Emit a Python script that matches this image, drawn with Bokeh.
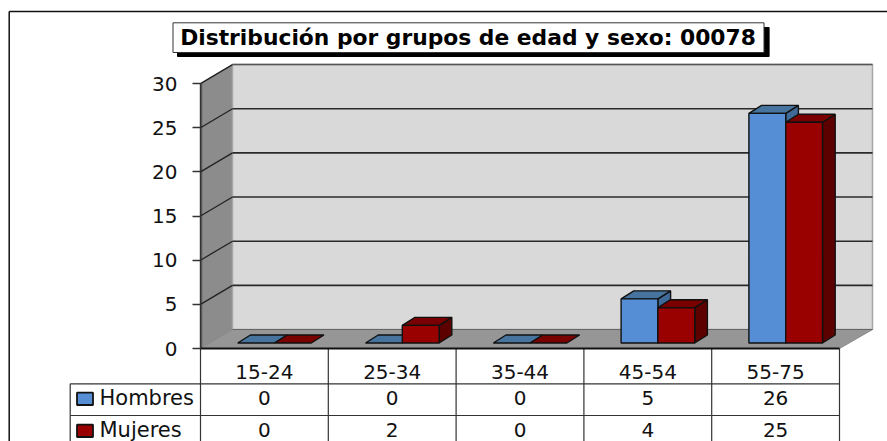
from bokeh.plotting import figure
from bokeh.models import LinearAxis, FixedTicker, Range1d
from bokeh.core.properties import value
from bokeh.embed import file_html
from bokeh.resources import INLINE

categories = ["15-24", "25-34", "35-44", "45-54", "55-75"]
hombres = [0, 0, 0, 5, 26]
mujeres = [0, 2, 0, 4, 25]
y_ticks = [0, 5, 10, 15, 20, 25, 30]
series_names = ["Hombres", "Mujeres"]
title_text = "Distribución por grupos de edad y sexo: 00078"

W, H = 887, 441
FONT = value("DejaVu Sans")
# canvas pixel -> data helpers (decoration only)
CW = 127.8          # px per category
UY = 8.83           # px per value unit
X0, Y0 = 200.0, 348.0
def X(px): return (px - X0) / CW
def Y(px): return (Y0 - px) / UY

p = figure(width=W, height=H, output_backend="svg", toolbar_location=None,
           x_range=Range1d(X(0), X(W)), y_range=Range1d(Y(H), Y(0)),
           min_border=0, min_border_left=0, min_border_right=0,
           min_border_top=0, min_border_bottom=0,
           x_axis_type=None, y_axis_type=None, outline_line_color=None,
           background_fill_color="white", border_fill_color="white")
p.xgrid.visible = False
p.ygrid.visible = False

def poly(pts, fill, line=None, lw=1.0):
    p.patch([X(a) for a, b in pts], [Y(b) for a, b in pts], fill_color=fill,
            line_color=line if line else fill, line_width=lw)

def seg(x0, y0, x1, y1, color="#222222", lw=1.5):
    p.line([X(x0), X(x1)], [Y(y0), Y(y1)], line_color=color, line_width=lw)

# outer border
seg(8.7, 11, 887, 11, "#111111", 1.5)
seg(8.7, 11, 8.7, 441, "#111111", 1.5)

# 3D walls
DX, DY = 32.0, 19.0
top = Y0 - 30 * UY
poly([(X0, top), (X0 + DX, top - DY), (X0 + DX, Y0 - DY), (X0, Y0)], "#8c8c8c", "#8c8c8c")
poly([(X0 + DX, top - DY), (X0 + DX + 640, top - DY), (X0 + DX + 640, Y0 - DY), (X0 + DX, Y0 - DY)],
     "#d9d9d9", "#a6a6a6", 1.5)
poly([(X0, Y0), (X0 + DX, Y0 - DY), (X0 + DX + 640, Y0 - DY), (X0 + 639, Y0)], "#969696", "#8a8a8a")
seg(X0 + DX, top - DY, X0 + DX + 640, top - DY, "#555555", 1.5)
seg(X0 + DX, Y0 - DY, X0 + DX + 640, Y0 - DY, "#666666", 1.2)
seg(X0 + 0.5, top, X0 + 0.5, Y0, "#555555", 2.5)

# gridlines
for t in y_ticks[1:-1] + [30]:
    py = Y0 - t * UY
    seg(X0, py, X0 + DX, py - DY, "#222222", 1.3)
    if t != 30:
        seg(X0 + DX, py - DY, X0 + DX + 640, py - DY, "#2a2a2a", 1.6)

# bars: data values through the y scale
GAP = 37.2 / CW
BW = 36.8 / CW
BX, BY = 12.7 / CW, 8.0 / UY
BASE = 5.5 / UY
styles = [("#558ed5", "#47749f", "#3f6a98"), ("#990000", "#7a0000", "#5c0000")]
EDGE = "#111111"
for i, cat in enumerate(categories):
    for j, vals in enumerate((hombres, mujeres)):
        v = vals[i]
        x0 = i + GAP + j * BW
        x1 = x0 + BW
        yt = BASE + v
        front, topc, side = styles[j]
        if v > 0:
            p.patch([x1, x1 + BX, x1 + BX, x1], [BASE, BASE + BY, yt + BY, yt],
                    fill_color=side, line_color=EDGE, line_width=1.4)
        p.patch([x0, x1, x1 + BX, x0 + BX], [yt, yt, yt + BY, yt + BY],
                fill_color=topc, line_color=EDGE, line_width=1.4)
        if v > 0:
            p.patch([x0, x1, x1, x0], [BASE, BASE, yt, yt],
                    fill_color=front, line_color=EDGE, line_width=1.4)

# y axis
ya = LinearAxis(ticker=FixedTicker(ticks=y_ticks), bounds=(0, 30), fixed_location=0)
ya.axis_line_color = "#333333"
ya.axis_line_width = 1
ya.major_tick_line_color = "#333333"
ya.major_tick_line_width = 1.3
ya.major_tick_in = 0
ya.major_tick_out = 8
ya.minor_tick_line_color = None
ya.major_label_standoff = 15
ya.major_label_text_font = "DejaVu Sans"
ya.major_label_text_font_size = "20px"
ya.major_label_text_color = "#111111"
p.add_layout(ya, "left")

# x axis with category labels
centers = [i + 0.5 for i in range(len(categories))]
xa = LinearAxis(ticker=FixedTicker(ticks=centers), fixed_location=0, bounds=(0, 5),
                major_label_overrides={c: s for c, s in zip(centers, categories)})
xa.axis_line_color = "#111111"
xa.axis_line_width = 2
xa.major_tick_line_color = None
xa.minor_tick_line_color = None
xa.major_label_standoff = 10
xa.major_label_text_font = "DejaVu Sans"
xa.major_label_text_font_size = "20px"
xa.major_label_text_color = "#111111"
p.add_layout(xa, "below")

# data table
R1, R2, RE = 383.3, 415.0, 441.0
TL = 69.7
seg(TL, R1, X0 + 639, R1, "#333333", 1.2)
seg(TL, R2, X0 + 639, R2, "#333333", 1.2)
seg(TL, R1, TL, RE, "#333333", 1.2)
for k in range(len(categories) + 1):
    seg(X0 + k * CW, Y0, X0 + k * CW, RE, "#333333", 1.2)

for row, (vals, py) in enumerate(((hombres, 397.0), (mujeres, 429.0))):
    p.text(centers, [Y(py)] * len(vals), text=[str(v) for v in vals],
           text_font=FONT, text_font_size="20px", text_align="center",
           text_baseline="middle", text_color="#111111")
    p.text([X(99)], [Y(py)], text=[series_names[row]], text_font=FONT,
           text_font_size="21px", text_align="left", text_baseline="middle",
           text_color="#111111")
    poly([(76.5, py - 4.8), (92.5, py - 4.8), (92.5, py + 7.5), (76.5, py + 7.5)],
         styles[row][0], "#111111", 1.8)

# title box
poly([(177, 27), (768.6, 27), (768.6, 56), (177, 56)], "#000000")
poly([(172.5, 22.3), (763.5, 22.3), (763.5, 52), (172.5, 52)], "#ffffff", "#333333", 1.0)
p.text([X(467.5)], [Y(37)], text=[title_text], text_font=FONT,
       text_font_size="21.8px", text_font_style="bold", text_align="center",
       text_baseline="middle", text_color="#000000")

open("out.html", "w").write(file_html(p, INLINE))
